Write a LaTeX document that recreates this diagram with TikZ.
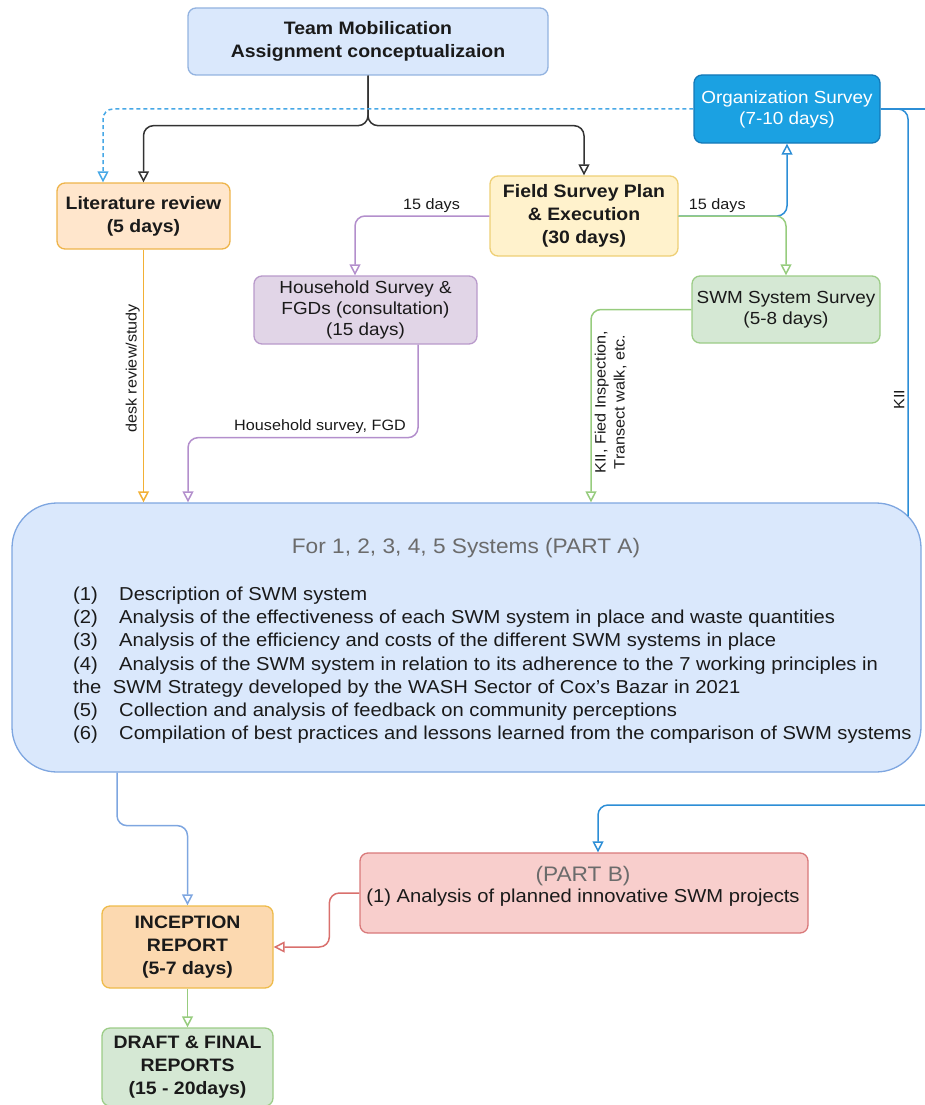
\documentclass[tikz,border=0pt]{standalone}
\usepackage{fontspec}
\setmainfont{Liberation Sans}[FakeStretch=1.08]
\usetikzlibrary{arrows.meta,calc}

% box fills and borders
\definecolor{teamF}{HTML}{DAE8FC}\definecolor{teamD}{HTML}{93B3E0}
\definecolor{orgF}{HTML}{1BA1E2}\definecolor{orgD}{HTML}{1479B8}
\definecolor{litF}{HTML}{FFE6CC}\definecolor{litD}{HTML}{EEB44A}
\definecolor{fieldF}{HTML}{FFF2CC}\definecolor{fieldD}{HTML}{EECF75}
\definecolor{hhF}{HTML}{E1D5E7}\definecolor{hhD}{HTML}{B99ACB}
\definecolor{swmF}{HTML}{D5E8D4}\definecolor{swmD}{HTML}{9CCC87}
\definecolor{partaF}{HTML}{DAE8FC}\definecolor{partaD}{HTML}{7EA6E0}
\definecolor{partbF}{HTML}{F8CECC}\definecolor{partbD}{HTML}{D9797A}
\definecolor{incF}{HTML}{FCD9B0}\definecolor{incD}{HTML}{EEBB4A}
% connector colours
\definecolor{eBlack}{HTML}{333333}
\definecolor{eDash}{HTML}{47A8E6}
\definecolor{ePurple}{HTML}{B38FCC}
\definecolor{eGreen}{HTML}{97CC7E}
\definecolor{eBlue}{HTML}{2C8ED6}
\definecolor{eOrange}{HTML}{F2B035}
\definecolor{eLBlue}{HTML}{7EA6E0}
\definecolor{eRed}{HTML}{D9706D}
% text colours
\definecolor{txt}{HTML}{1A1A1A}
\definecolor{greytxt}{HTML}{6B6B6B}

\begin{document}
\begin{tikzpicture}[x=1pt,y=-1pt,
  box/.style={draw, rounded corners=8pt, line width=1.3pt, align=center,
    inner sep=0pt, text=txt},
  boldtxt/.style={font=\bfseries\fontsize{18}{23}\selectfont},
  regtxt/.style={font=\fontsize{17.5}{21}\selectfont},
  lbl/.style={font=\fontsize{15}{19}\selectfont, text=txt, inner sep=3pt},
  edge/.style={line width=1.5pt, rounded corners=10pt},
  >={Triangle[open,length=11pt,width=11pt]}]
\useasboundingbox (0,0) rectangle (925,1105);

% ---- boxes ----
\node[box, boldtxt, fill=teamF, draw=teamD, minimum width=360pt, minimum height=67pt]
  (team) at (368,41.5) {Team Mobilication\\Assignment conceptualizaion};
\node[box, regtxt, fill=orgF, draw=orgD, text=white, minimum width=186pt, minimum height=68pt]
  (org) at (787,109) {Organization Survey\\(7-10 days)};
\node[box, boldtxt, fill=litF, draw=litD, minimum width=173pt, minimum height=66pt]
  (lit) at (143.5,216) {Literature review\\(5 days)};
\node[box, boldtxt, fill=fieldF, draw=fieldD, minimum width=188pt, minimum height=80pt]
  (field) at (584,216) {Field Survey Plan\\\& Execution\\(30 days)};
\node[box, regtxt, fill=hhF, draw=hhD, minimum width=223pt, minimum height=68pt]
  (hh) at (365.5,310) {Household Survey \&\\FGDs (consultation)\\(15 days)};
\node[box, regtxt, fill=swmF, draw=swmD, minimum width=188pt, minimum height=67pt]
  (swm) at (786,309.5) {SWM System Survey\\(5-8 days)};
\node[box, rounded corners=45pt, fill=partaF, draw=partaD, minimum width=909pt, minimum height=269pt]
  (parta) at (466.5,637.5) {};
\node[box, fill=partbF, draw=partbD, minimum width=448pt, minimum height=80pt]
  (partb) at (584,893) {};
\node[box, boldtxt, fill=incF, draw=incD, minimum width=171pt, minimum height=82pt]
  (incep) at (187.5,947) {INCEPTION\\REPORT\\(5-7 days)};
\node[box, boldtxt, fill=swmF, draw=swmD, minimum width=171pt, minimum height=78pt]
  (draft) at (187.5,1067) {DRAFT \& FINAL\\REPORTS\\(15 - 20days)};

% ---- texts of the two analysis parts ----
\node[font=\fontsize{21}{25}\selectfont, text=greytxt] (partatitle) at (466,548)
  {For 1, 2, 3, 4, 5 Systems (PART A)};
\node[anchor=north west, inner sep=0pt, align=left, text=txt,
  font=\fontsize{18.7}{23.3}\selectfont] (partalist) at (73,586.4)
  {\makebox[46pt][l]{(1)}Description of SWM system\\
   \makebox[46pt][l]{(2)}Analysis of the effectiveness of each SWM system in place and waste quantities\\
   \makebox[46pt][l]{(3)}Analysis of the efficiency and costs of the different SWM systems in place\\
   \makebox[46pt][l]{(4)}Analysis of the SWM system in relation to its adherence to the 7 working principles in\\
   the\hspace{6pt} SWM Strategy developed by the WASH Sector of Cox’s Bazar in 2021\\
   \makebox[46pt][l]{(5)}Collection and analysis of feedback on community perceptions\\
   \makebox[46pt][l]{(6)}Compilation of best practices and lessons learned from the comparison of SWM systems};
\node[font=\fontsize{21}{25}\selectfont, text=greytxt] (partbtitle) at (583,876) {(PART B)};
\node[font=\fontsize{18.7}{23}\selectfont, text=txt] (partbtext) at (583,898)
  {(1) Analysis of planned innovative SWM projects};

% ---- free ends at the right margin ----
\coordinate (rightA) at (935,109);
\coordinate (rightB) at (935,805);
\coordinate (kiiEnd) at (908,516);

% ---- connectors ----
\draw[edge, eBlack, ->] (team.south) -- ++(0,50) -| (lit.north);
\draw[edge, eBlack, ->] (team.south) -- ++(0,50) -| (field.north);
\draw[edge, eDash, dash pattern=on 4pt off 3pt, ->] (org.west) -| ([xshift=-40.5pt]lit.north);
\draw[edge, ePurple, ->] (field.west) -| ([xshift=-10.5pt]hh.north)
  node[lbl, pos=0.215, above] {15 days};
\draw[edge, eBlue, ->] (field.east) -| (org.south);
\draw[edge, eGreen, ->] (field.east) -| (swm.north)
  node[lbl, pos=0.18, above] {15 days};
\draw[edge, eOrange, ->] (lit.south) -- (lit.south |- parta.north)
  node[lbl, pos=0.47, rotate=90, anchor=south] {desk review/study};
\draw[edge, ePurple, ->] ([xshift=52.5pt]hh.south) -- ++(0,93) -| ([xshift=-278.5pt]parta.north)
  node[lbl, pos=0.213, above] {Household survey, FGD};
\draw[edge, eGreen, ->] (swm.west) -| ([xshift=124.5pt]parta.north)
  node[lbl, pos=0.74, rotate=90, anchor=north, align=center] {KII, Fied Inspection,\\Transect walk, etc.};
\draw[edge, eBlue] (org.east) -- (rightA);
\draw[edge, eBlue] (org.east) -| (kiiEnd)
  node[lbl, pos=0.857, rotate=90, anchor=south] {KII};
\draw[edge, eBlue, ->] (rightB) -| ([xshift=14pt]partb.north);
\draw[edge, eLBlue, ->] ([xshift=-349.5pt]parta.south) -- ++(0,53) -| (incep.north);
\draw[edge, eRed, ->] (partb.west) -- ++(-30,0) |- (incep.east);
\draw[edge, eGreen, ->] (incep.south) -- (draft.north);
\end{tikzpicture}
\end{document}
